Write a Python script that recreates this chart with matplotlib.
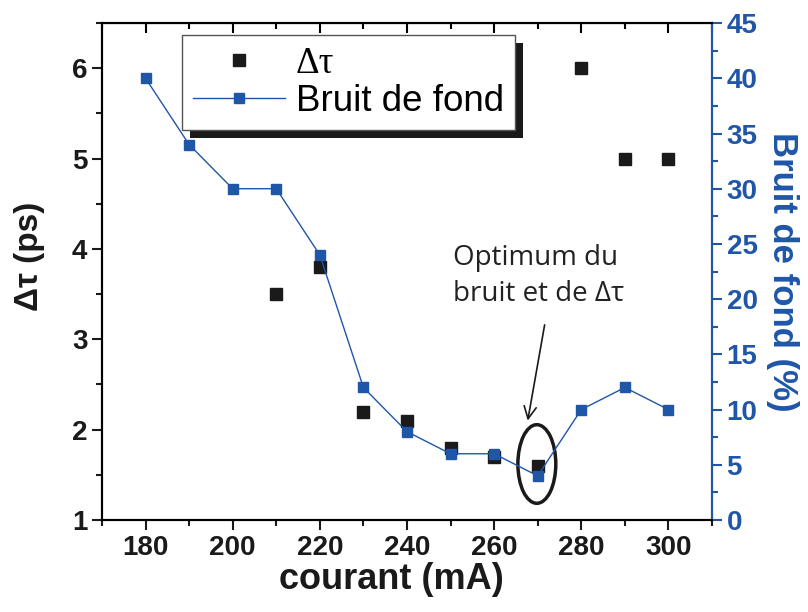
import numpy as np
import matplotlib.pyplot as plt
from matplotlib.patches import Ellipse, Rectangle
from matplotlib.ticker import MultipleLocator

# data
courant_dt = [210, 220, 230, 240, 250, 260, 270, 280, 290, 300]
dtau = [3.5, 3.8, 2.2, 2.1, 1.8, 1.7, 1.6, 6.0, 5.0, 5.0]

courant_b = [180, 190, 200, 210, 220, 230, 240, 250, 260, 270, 280, 290, 300]
bruit = [40, 34, 30, 30, 24, 12, 8, 6, 6, 4, 10, 12, 10]

blue = '#1f56a8'
plt.rcParams['font.family'] = ['Liberation Sans', 'DejaVu Sans']

fig = plt.figure(figsize=(8.08, 6.12), dpi=100)
ax = fig.add_axes([0.1262, 0.1503, 0.755, 0.812])
ax2 = ax.twinx()

ax.plot(courant_dt, dtau, 's', color='#1a1a1a', ms=8, label='Δτ', zorder=3)
l2, = ax2.plot(courant_b, bruit, '-s', color=blue, lw=1, ms=7.5, label='Bruit de fond')

ax.set_xlim(170, 310)
ax.set_ylim(1, 6.5)
ax2.set_ylim(0, 45)

ax.xaxis.set_major_locator(MultipleLocator(20))
ax.xaxis.set_minor_locator(MultipleLocator(10))
ax.yaxis.set_major_locator(MultipleLocator(1))
ax.yaxis.set_minor_locator(MultipleLocator(0.5))
ax2.yaxis.set_major_locator(MultipleLocator(5))
ax2.yaxis.set_minor_locator(MultipleLocator(2.5))

ax.tick_params(which='major', direction='out', length=7, width=1.5, labelsize=20, colors='#1a1a1a')
ax.tick_params(which='minor', direction='out', length=4, width=1.5, colors='#1a1a1a')
ax2.tick_params(which='major', direction='out', length=7, width=1.5, labelsize=20,
                colors=blue)
ax2.tick_params(which='minor', direction='out', length=4, width=1.5, colors=blue)
for lab in ax.get_xticklabels() + ax.get_yticklabels() + ax2.get_yticklabels():
    lab.set_fontweight('bold')

for s in ax.spines.values():
    s.set_linewidth(1.5)
for s in ax2.spines.values():
    s.set_linewidth(1.5)
ax2.spines['right'].set_color(blue)

# top ticks pointing inward
top = ax.secondary_xaxis('top')
top.xaxis.set_major_locator(MultipleLocator(20))
top.xaxis.set_minor_locator(MultipleLocator(10))
top.tick_params(which='major', direction='in', length=7, width=1.5, labeltop=False)
top.tick_params(which='minor', direction='in', length=4, width=1.5)

ax.set_xlabel('courant (mA)', fontsize=26, fontweight='bold', color='#1a1a1a')
ax.xaxis.set_label_coords(0.474, -0.085)
ax.set_ylabel('Δτ (ps)', fontsize=24, fontweight='bold', color='#1a1a1a')
ax.yaxis.set_label_coords(-0.093, 0.531)
ax2.set_ylabel('Bruit de fond (%)', fontsize=25, fontweight='bold', color=blue,
               rotation=270, labelpad=30)

# annotation
ax.add_patch(Ellipse((269.8, 1.62), 8.7, 0.87, fill=False, lw=2.5, color='#1a1a1a', zorder=4))
ax.annotate('', xy=(267.6, 2.07), xytext=(271.7, 3.19),
            arrowprops=dict(arrowstyle='->', color='#1a1a1a', lw=1.2,
                            mutation_scale=22))
ax.text(250.6, 4.06, 'Optimum du\nbruit et de Δτ', fontsize=20,
        family=['Open Sans', 'DejaVu Sans'], color='#222222',
        va='top', ha='left', linespacing=1.4)

# legend with solid shadow
leg = ax.legend(handles=[ax.lines[0], l2], loc='upper left',
                bbox_to_anchor=(0.131, 0.976), borderaxespad=0,
                fontsize=26.5, frameon=True, fancybox=False, edgecolor='#555555',
                facecolor='white', framealpha=1,
                handlelength=2.5, handletextpad=0.3, borderpad=0.3,
                labelspacing=0.1)
leg.get_frame().set_linewidth(1.0)
leg.get_texts()[0].set_family(['Liberation Serif', 'DejaVu Serif'])
leg.set_zorder(10)
fig.canvas.draw()
bb = leg.get_window_extent()
shadow = Rectangle((bb.x0 + 8, bb.y0 - 8), bb.width, bb.height,
                   transform=None, facecolor='#1a1a1a', edgecolor='none', zorder=9)
ax.add_artist(shadow)

fig.savefig('out.png', dpi=100)
